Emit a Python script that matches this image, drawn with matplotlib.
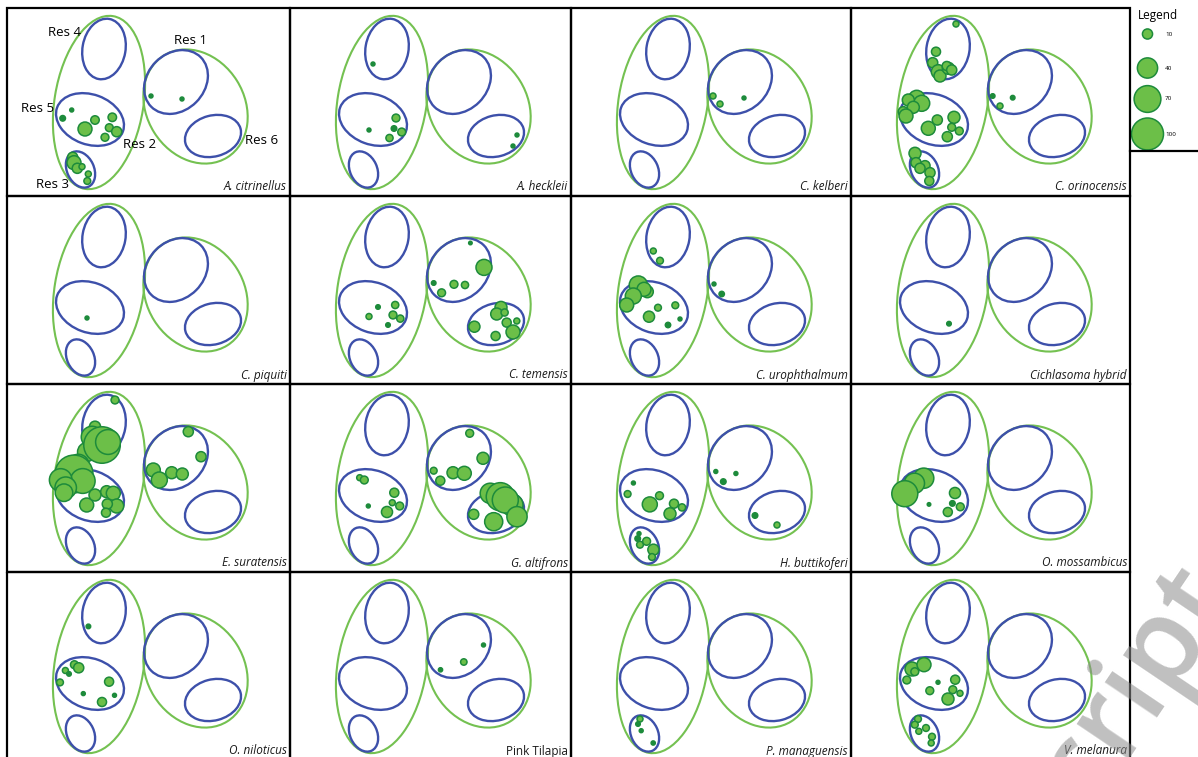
import numpy as np
import matplotlib.pyplot as plt
from matplotlib.patches import Ellipse, Circle, Rectangle

plt.rcParams['font.family'] = ['Open Sans', 'DejaVu Sans']

# species shown in the grid, row by row
species = ["A. citrinellus", "A. heckleii", "C. kelberi", "C. orinocensis",
           "C. piquiti", "C. temensis", "C. urophthalmum", "Cichlasoma hybrid",
           "E. suratensis", "G. altifrons", "H. buttikoferi", "O. mossambicus",
           "O. niloticus", "Pink Tilapia", "P. managuensis", "V. melanura"]

# catches per site: (x, y, count) inside a panel
citrinellus = [(144, 88, 1.5), (175, 91, 1.5), (64.7, 102, 1.5), (55.7, 110.3, 3),
               (78, 121, 19), (88, 112, 7), (105.3, 109.3, 7), (102.3, 119.7, 6),
               (109.7, 123.7, 10), (98, 129.3, 6), (65.7, 149.3, 10), (67, 154.7, 19),
               (70.3, 160.3, 10), (75, 158.7, 3.5), (81.3, 166, 3.5), (80.3, 173, 4.5)]
heckleii = [(83, 56, 1.5), (79, 122, 1.5), (99.5, 130, 5), (104, 120.5, 3),
            (106, 110, 6), (111.7, 124, 6), (227, 127, 1.5), (223, 138, 1.5)]
kelberi = [(142, 88, 3.5), (149, 96, 3.5), (173, 90, 1.5)]
orinocensis = [(105, 16, 3.5), (85, 43.7, 8), (81.7, 54.7, 10), (87.3, 63.7, 19),
               (89, 68, 14), (97.3, 60.3, 14), (95.7, 58, 8), (100.7, 62, 10),
               (65.7, 90.3, 25), (70.7, 95.3, 25), (57.3, 92, 14), (62.3, 99.3, 14),
               (52.3, 103.7, 10), (55, 108, 19), (77.3, 120.3, 19), (86.3, 112, 10),
               (103, 109.3, 14), (100.7, 119.3, 6), (108.3, 123, 6), (96.3, 128.7, 10),
               (64, 145.3, 14), (65, 154.7, 10), (74, 157.7, 10), (69, 160.3, 10),
               (79, 164.7, 10), (78.3, 173, 8), (141.7, 88, 2), (161.7, 89.7, 2),
               (149, 98, 3.5)]
piquiti = [(80, 122, 1.5)]
temensis = [(180.4, 47, 1.2), (194, 71.4, 25), (143.7, 87, 2), (164, 88.3, 6),
            (175, 89, 5), (151.6, 96.8, 6), (211, 111.4, 14), (206.7, 118, 14),
            (214.6, 116.5, 5), (216.7, 126.6, 8), (226.8, 125, 3.5), (184.4, 130.7, 12),
            (223, 136, 19), (205.6, 140, 8), (88, 111, 2), (105.2, 109, 5),
            (79, 120.5, 3.5), (103, 119, 6), (110.3, 122.6, 5), (98, 129, 2)]
urophthalmum = [(82.3, 55, 3.5), (89, 64.7, 4.5), (67.3, 89, 32), (76.3, 95.7, 14),
                (73, 93.3, 19), (62.3, 100, 25), (55.7, 109, 19), (78, 120.7, 12),
                (87, 111.7, 4.5), (104.3, 109.3, 4.5), (97, 129, 2.8), (109, 123, 1.5),
                (143, 88, 1.5), (150.7, 98, 2.8)]
hybrid = [(98, 127.7, 2)]
suratensis = [(108, 16, 6), (88, 42.7, 12), (85, 53, 45), (80, 68, 35),
              (95, 61, 130), (101, 58, 60), (71.3, 81, 45), (67, 90, 140),
              (75.7, 97, 60), (53.7, 96, 50), (58.7, 103.7, 45), (57, 108.7, 30),
              (79.7, 121, 19), (88, 111, 14), (99.7, 107.7, 14), (106.3, 109.3, 19),
              (109.7, 122, 19), (100.3, 120, 10), (99, 128.7, 8),
              (181.3, 47.7, 10), (194, 72.7, 10), (146.3, 86, 19), (152.3, 96, 25),
              (164.7, 88.7, 14), (175.3, 90, 14)]
altifrons = [(69.7, 93.7, 3.5), (74.3, 96, 6), (104.3, 108.7, 8), (78.3, 122, 1.5),
             (102.3, 118.7, 3.5), (109.7, 122, 6), (97, 128, 12),
             (179.7, 49.3, 6), (193, 74.3, 14), (143.7, 86.7, 4.5), (150.3, 96.7, 8),
             (163, 88.7, 14), (174.3, 89.3, 19),
             (200.3, 109.3, 40), (210.3, 112.7, 77), (222, 121, 47), (215.3, 116, 66),
             (227, 132.7, 40), (203.7, 137.7, 32), (183.7, 130.3, 10)]
buttikoferi = [(144.8, 87.5, 1.5), (164.9, 89.5, 1.5), (152.3, 97.6, 3),
               (184, 131.5, 3), (206, 141, 3.5), (62.4, 99, 1.5), (56.6, 110, 4.5),
               (78.8, 120.4, 22), (88.5, 111.7, 6), (103, 119.7, 8), (99, 129.8, 14),
               (111, 123.4, 5), (68, 149.6, 1.5), (66.7, 154.6, 3), (69, 160.7, 4.5),
               (75.6, 157.3, 6), (82.4, 165.7, 12), (81, 173, 4.5)]
mossambicus = [(72.7, 94.2, 40), (63.4, 99.3, 40), (53.8, 109.7, 66), (104, 109, 12),
               (78, 120.4, 1.2), (101.4, 119.4, 3), (109.3, 122.8, 6), (96.8, 128, 8)]
niloticus = [(81.4, 54.4, 2), (67.4, 92.7, 6), (71.7, 95.8, 10), (58.4, 98.5, 3.5),
             (62, 101.9, 2), (53, 110.4, 4.5), (102.1, 109.7, 8), (76.3, 121.6, 1.5),
             (95, 130, 8), (107.5, 123.3, 1.5)]
pink = [(193.5, 73, 1.5), (173.8, 90, 4), (150.5, 97.8, 1.7)]
managuensis = [(69, 147, 3.5), (67, 152, 2), (70.2, 158.7, 1.5), (82.2, 171, 1.7)]
melanura = [(61, 97, 19), (73, 92.7, 19), (63.8, 99.7, 6), (55.8, 108, 6),
            (87, 110.3, 1.5), (104.2, 107.7, 8), (78.8, 118.7, 6), (101.8, 117.7, 6),
            (109, 121.3, 3.5), (97, 127, 14), (67, 147, 4.5), (63.8, 152.7, 4.5),
            (75, 156, 4.5), (67.8, 159.3, 3.5), (81, 164.7, 4.5), (80.2, 171, 3.5)]

catches = [citrinellus, heckleii, kelberi, orinocensis,
           piquiti, temensis, urophthalmum, hybrid,
           suratensis, altifrons, buttikoferi, mossambicus,
           niloticus, pink, managuensis, melanura]

legend_counts = [10, 40, 70, 100]

# reservoir outlines inside a panel: (cx, cy, width, height, angle)
basins = [(92, 94.5, 175, 89, -80.8), (188.5, 98.5, 120, 97.6, 58)]
reservoirs = [(169, 74, 70, 57, -45),    # Res 1
              (97, 41, 61, 43, -80),     # Res 4
              (83, 111.5, 70, 50, 20),   # Res 5
              (73.5, 161.5, 38, 27, 65),  # Res 3
              (206, 128, 57, 41, -15)]   # Res 6
res_labels = [("Res 4", 58, 24), ("Res 1", 184, 32), ("Res 5", 31, 100),
              ("Res 2", 133, 136), ("Res 6", 255, 133), ("Res 3", 46, 177)]

col_edges = [7, 290, 571, 851, 1130]
row_edges = [8, 196, 384, 572, 760]

GREEN_LINE = '#74c151'
BLUE_LINE = '#3d50aa'
FILL = '#6cbf48'
EDGE = '#1d8b3b'
K = 1.6  # pixel radius per sqrt(count)


def bubble(ax, x, y, n):
    r = K * np.sqrt(n)
    fc = EDGE if r < 2.9 else FILL
    ax.add_patch(Circle((x, y), r, fc=fc, ec=EDGE, lw=1.1, zorder=4))


fig = plt.figure(figsize=(11.98, 7.57), dpi=100)
ax = fig.add_axes([0, 0, 1, 1])
ax.set_xlim(0, 1198)
ax.set_ylim(757, 0)
ax.axis('off')

for i, name in enumerate(species):
    r, c = divmod(i, 4)
    x0, y0 = col_edges[c], row_edges[r]
    w, h = col_edges[c + 1] - x0, row_edges[r + 1] - y0
    ax.add_patch(Rectangle((x0, y0), w, h, fill=False, ec='black', lw=1.6, zorder=6))
    for cx, cy, ew, eh, ang in basins:
        ax.add_patch(Ellipse((x0 + cx, y0 + cy), ew, eh, angle=ang, fill=False,
                             ec=GREEN_LINE, lw=1.5, zorder=2))
    for cx, cy, ew, eh, ang in reservoirs:
        ax.add_patch(Ellipse((x0 + cx, y0 + cy), ew, eh, angle=ang, fill=False,
                             ec=BLUE_LINE, lw=1.7, zorder=3))
    for x, y, n in catches[i]:
        bubble(ax, x0 + x, y0 + y, n)
    style = 'normal' if name == "Pink Tilapia" else 'italic'
    ax.text(x0 + w - 3, y0 + h - 9, name, ha='right', va='center',
            fontsize=8.5, style=style, color='#1a1a1a', zorder=7)

# reservoir names on the first panel
for txt, x, y in res_labels:
    ax.text(col_edges[0] + x, row_edges[0] + y, txt, ha='center', va='center',
            fontsize=9.5, color='black', zorder=7)

# legend box
ax.plot([1130, 1198], [151, 151], color='black', lw=1.6, zorder=6)
ax.text(1158, 16, "Legend", ha='center', va='center', fontsize=8.5, zorder=7)
for n, y in zip(legend_counts, [34, 68, 99, 134]):
    bubble(ax, 1147.5, y, n)
    ax.text(1165, y, str(n), ha='left', va='center', fontsize=4.5, zorder=7)

# watermark
ax.text(1232, 590, "Manuscript", rotation=56, rotation_mode='anchor',
        ha='right', va='baseline', fontsize=84, fontweight='semibold',
        color='#8c8c8c', alpha=0.55, zorder=10)

fig.savefig('out.png', dpi=100)
